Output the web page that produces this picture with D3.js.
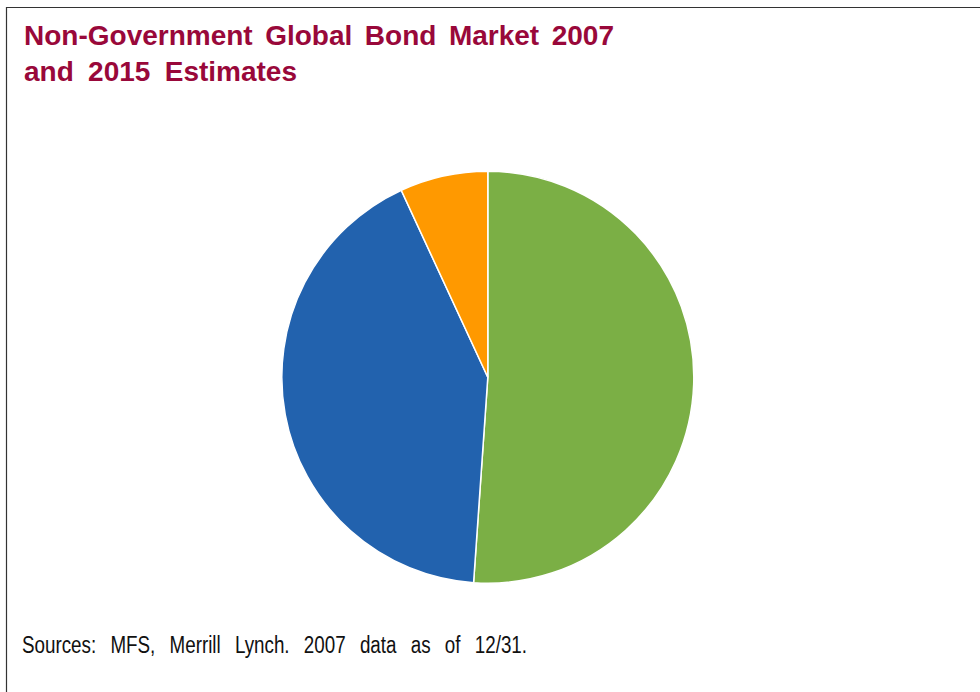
<!DOCTYPE html>
<html>
<head>
<meta charset="utf-8">
<script src="https://cdn.jsdelivr.net/npm/d3@7/dist/d3.min.js"></script>
<style>
  html, body { margin: 0; padding: 0; background: #fff; }
  svg { display: block; }
</style>
</head>
<body>
<svg id="chart" width="980" height="692"></svg>
<script>
// Share of the non-government global bond market (percent), clockwise from 12 o'clock
const categories = ["Segment 1", "Segment 2", "Segment 3"];
const values = [51.1, 42.0, 6.9];
const colors = ["#7BAF45", "#2262AE", "#FF9900"];

const titleLines = ["Non-Government Global Bond Market 2007", "and 2015 Estimates"];
const sourceNote = "Sources: MFS, Merrill Lynch. 2007 data as of 12/31.";

const svg = d3.select("#chart");
const W = 980, H = 692;

svg.append("rect").attr("width", W).attr("height", H).attr("fill", "#fff");

// Frame: top and left edges
svg.append("path")
  .attr("d", `M6.5,${H} V7.5 H${W}`)
  .attr("fill", "none")
  .attr("stroke", "#333")
  .attr("stroke-width", 1.2);

// Spread a line's words so it spans a given width
function fitWords(sel, width) {
  const text = sel.text();
  const natural = sel.node().getComputedTextLength();
  const gaps = text.split(" ").length - 1;
  if (gaps > 0) sel.attr("word-spacing", (width - natural) / gaps);
}

// Title
const titleWidths = [590, 273];
const titleBaselines = [45, 80.5];
titleLines.forEach((line, i) => {
  const t = svg.append("text")
    .attr("x", 24)
    .attr("y", titleBaselines[i])
    .attr("fill", "#99083A")
    .attr("font-family", "Liberation Sans, Arial, sans-serif")
    .attr("font-weight", "bold")
    .attr("font-size", 28)
    .text(line);
  fitWords(t, titleWidths[i]);
});

// Pie
const cx = 487.8, cy = 377.2, r = 206;
const pie = d3.pie().sort(null).value(d => d.value);
const arc = d3.arc().innerRadius(0).outerRadius(r);
const data = categories.map((c, i) => ({ name: c, value: values[i], color: colors[i] }));

svg.append("g")
  .attr("transform", `translate(${cx},${cy})`)
  .selectAll("path")
  .data(pie(data))
  .join("path")
  .attr("d", arc)
  .attr("fill", d => d.data.color)
  .attr("stroke", "#fff")
  .attr("stroke-width", 1.5);

// Source note, set in a condensed face
const sx = 0.8;
const note = svg.append("g")
  .attr("transform", `translate(22,652.5) scale(${sx},1)`)
  .append("text")
  .attr("x", 0)
  .attr("y", 0)
  .attr("fill", "#111")
  .attr("font-family", "Liberation Sans, Arial, sans-serif")
  .attr("font-size", 23.5)
  .text(sourceNote);
fitWords(note, 505 / sx);
</script>
</body>
</html>
